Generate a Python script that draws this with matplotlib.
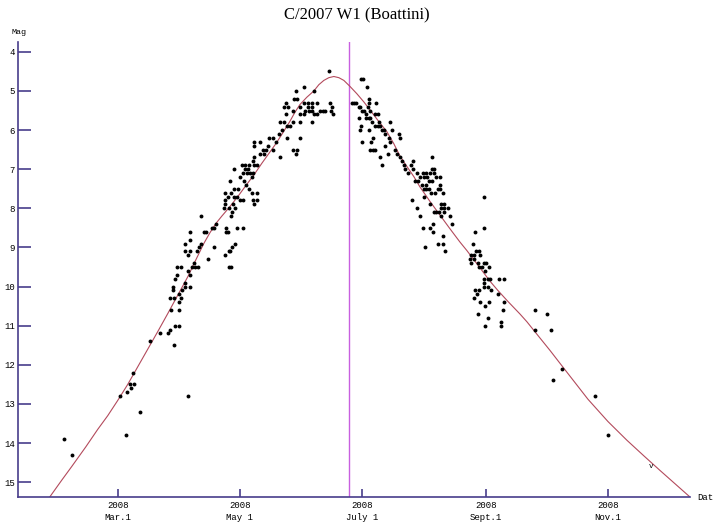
import matplotlib
matplotlib.use("Agg")
import matplotlib.pyplot as plt

# Light curve of comet C/2007 W1 (Boattini)
# x values are days counted from 2008-01-01 (day 0), y values are magnitudes

tick_days = [60, 121, 182, 244, 305]
tick_labels = ["2008\nMar.1", "2008\nMay 1", "2008\nJuly 1", "2008\nSept.1", "2008\nNov.1"]
mag_ticks = list(range(4, 16))

perihelion_day = 175.6

# model curve
curve_day = [26, 32, 37, 44, 50, 55, 60, 65, 70, 75, 80, 85, 90, 95, 99, 103, 106,
             109, 112, 116, 120, 124, 128, 132, 135.5, 139, 142.5, 146, 148.5, 151,
             154.5, 158, 160.5, 163, 165.5, 168, 170.5, 173, 176, 179.5, 183, 186,
             190, 194.5, 198, 201, 204.5, 208, 211, 216, 221, 226, 231, 234.5, 240,
             246, 250, 255, 261, 264.5, 270, 276, 281, 288, 295, 305, 314.5, 323,
             331, 338.5, 346]
curve_mag = [15.38, 14.95, 14.6, 14.1, 13.65, 13.3, 12.91, 12.5, 12.05, 11.6, 11.15,
             10.69, 10.22, 9.75, 9.32, 8.9, 8.63, 8.39, 8.2, 7.96, 7.7, 7.42, 7.15,
             6.85, 6.6, 6.35, 6.07, 5.78, 5.55, 5.35, 5.16, 5.0, 4.84, 4.73, 4.66,
             4.63, 4.66, 4.73, 4.88, 5.07, 5.28, 5.48, 5.75, 6.04, 6.35, 6.66, 6.93,
             7.19, 7.45, 7.82, 8.17, 8.52, 8.86, 9.08, 9.45, 9.86, 10.1, 10.38, 10.7,
             10.9, 11.25, 11.63, 11.96, 12.42, 12.88, 13.45, 13.93, 14.33, 14.7,
             15.04, 15.38]

# observations (pre-perihelion)
pre_day = [33, 37, 64, 61, 64.5, 66.5, 66, 68, 67.5, 71, 76, 81, 85, 86, 88.5, 90.5,
           88, 95, 86.5, 90.5, 90.5, 86, 88, 91.5, 90.5, 87.5, 92, 87.5, 93.5, 96,
           93.5, 88.5, 89.5, 96, 95, 89.5, 91.5, 97, 98.5, 100, 98, 95, 93.5, 96,
           99.5, 100.5, 93.5, 101.5, 96, 96, 103, 101.5,
           107, 108, 109, 104, 114, 115, 114, 119.5, 122.5, 118.5, 117, 108, 115.5,
           116, 105, 113.5, 115.5, 116.5,
           116.5, 117, 113, 115.5, 118.5, 113.5, 117.5, 128, 113.5, 121, 122.5,
           127.5, 129.5, 115, 118, 119.5, 113.5, 116.5, 127, 129.5, 118, 120, 125.5,
           124, 116, 123, 121, 127, 122.5, 124.5, 126, 127.5, 118, 123.5, 125, 122,
           123.5, 125.5, 128, 129.5, 127.5, 128, 141, 131, 133, 149, 132.5, 134,
           137.5, 147.5, 149.5, 128, 135, 128, 131, 139, 135.5, 137.5, 144.5, 140.5,
           142, 144.5, 146, 141, 143, 147.5, 144, 147.5, 143, 145, 144, 148, 149.5,
           149,
           165.5, 153, 158, 153, 155, 157, 159.5, 166, 151, 155, 157, 167, 153.5,
           155.5, 157, 161, 162.5, 163.5, 166.5, 151, 153, 158, 159.5, 167.5, 151,
           157, 151]
pre_mag = [13.9, 14.3, 13.8, 12.8, 12.7, 12.6, 12.5, 12.5, 12.2, 13.2, 11.4, 11.2,
           11.2, 11.1, 11.0, 11.0, 11.5, 12.8, 10.6, 10.6, 10.4, 10.3, 10.3, 10.3,
           10.2, 10.1, 10.1, 10.0, 10.0, 10.0, 9.9, 9.8, 9.7, 9.7, 9.6, 9.5, 9.5,
           9.5, 9.5, 9.5, 9.4, 9.2, 9.1, 9.1, 9.1, 9.0, 8.9, 8.9, 8.8, 8.6, 8.6, 8.2,
           8.5, 8.5, 8.4, 8.6, 8.6, 8.6, 8.5, 8.5, 8.5, 8.9, 9.0, 9.0, 9.1, 9.1, 9.3,
           9.2, 9.5, 9.5,
           8.2, 8.1, 8.0, 8.0, 8.0, 7.9, 7.9, 7.9, 7.8, 7.8, 7.8, 7.8, 7.8, 7.7, 7.7,
           7.7, 7.6, 7.6, 7.6, 7.6, 7.5, 7.5, 7.5, 7.4, 7.3, 7.3, 7.2, 7.2, 7.1, 7.1,
           7.1, 7.1, 7.0, 7.0, 7.0, 6.9, 6.9, 6.9, 6.9, 6.9, 6.8, 6.7, 6.7, 6.6, 6.6,
           6.6, 6.5, 6.5, 6.5, 6.5, 6.5, 6.4, 6.4, 6.3, 6.3, 6.3, 6.2, 6.2, 6.2, 6.1,
           6.0, 5.9, 5.9, 5.8, 5.8, 5.8, 5.6, 5.5, 5.4, 5.4, 5.3, 5.2, 5.2, 5.0,
           4.5, 4.9, 5.0, 5.3, 5.3, 5.3, 5.3, 5.3, 5.4, 5.4, 5.4, 5.4, 5.5, 5.5, 5.5,
           5.5, 5.5, 5.5, 5.5, 5.6, 5.6, 5.6, 5.6, 5.6, 5.8, 5.8, 6.2]

# observations (post-perihelion)
post_day = [181.5, 182.5, 184.5, 185.5, 177, 178, 179, 185.5, 189, 180.5, 181, 185,
            182, 183, 186, 184, 188.5, 190, 180.5, 184, 185.5, 186, 187, 190.5, 196,
            181.5, 188.5, 190, 191, 181, 185.5, 192, 193, 197, 193.5, 200.5, 187.5,
            195.5, 201, 182, 186.5, 196, 193.5, 186, 187.5, 188.5, 198.5, 195, 199.5,
            191, 201, 202, 192, 203, 203.5, 205, 207.5,
            207.5, 206.5, 217, 217, 218, 209.5, 212.5, 214, 216, 218, 211, 213, 214.5,
            219, 221, 208.5, 210, 215.5, 217, 212, 214, 221, 213, 214, 215.5, 220,
            221, 216.5, 218.5, 222.5, 213, 243, 207, 216, 221.5, 223, 209.5, 221.5,
            223, 225, 218, 219, 220.5, 223, 211, 221.5, 226, 217.5, 227, 212.5, 216,
            243, 217.5, 238.5, 222.5, 220, 222.5, 237.5, 213.5, 223.5, 239, 240.5,
            236.5, 238, 241, 236, 238, 236.5, 240, 243, 244, 240.5, 242, 245.5,
            243.5, 243, 245, 246, 250.5, 253, 243, 243, 245, 246.5, 238.5, 240.5,
            239.5, 250, 238, 241, 245.5, 253, 243.5, 252.5, 240, 245, 251.5, 243.5,
            251.5,
            268.5, 274.5, 268.5, 276.5, 282, 277.5, 298.5, 305]
post_mag = [4.7, 4.7, 4.9, 5.2, 5.3, 5.3, 5.3, 5.3, 5.3, 5.4, 5.4, 5.4, 5.5, 5.5, 5.5,
            5.6, 5.6, 5.6, 5.7, 5.7, 5.7, 5.7, 5.8, 5.8, 5.8, 5.9, 5.9, 5.9, 5.9, 6.0,
            6.0, 6.0, 6.0, 6.0, 6.1, 6.1, 6.2, 6.2, 6.2, 6.3, 6.3, 6.3, 6.4, 6.5, 6.5,
            6.5, 6.5, 6.6, 6.6, 6.7, 6.7, 6.8, 6.9, 6.9, 7.0, 7.1, 7.0,
            6.8, 6.9, 6.7, 7.0, 7.0, 7.1, 7.1, 7.1, 7.1, 7.1, 7.2, 7.2, 7.2, 7.2, 7.2,
            7.3, 7.3, 7.3, 7.3, 7.4, 7.4, 7.4, 7.5, 7.5, 7.5, 7.5, 7.5, 7.6, 7.6, 7.6,
            7.7, 7.7, 7.8, 7.9, 7.9, 7.9, 8.0, 8.0, 8.0, 8.0, 8.1, 8.1, 8.1, 8.1, 8.2,
            8.2, 8.2, 8.4, 8.4, 8.5, 8.5, 8.5, 8.6, 8.6, 8.7, 8.9, 8.9, 8.9, 9.0, 9.1,
            9.1, 9.1, 9.2, 9.2, 9.2, 9.3, 9.3, 9.4, 9.4, 9.4, 9.4, 9.5, 9.5, 9.5, 9.6,
            9.8, 9.8, 9.8, 9.8, 9.8, 9.9, 10.0, 10.0, 10.1, 10.1, 10.1, 10.2, 10.2,
            10.3, 10.4, 10.4, 10.4, 10.5, 10.6, 10.7, 10.8, 10.9, 11.0, 11.0,
            10.6, 10.7, 11.1, 11.1, 12.1, 12.4, 12.8, 13.8]

# small "v" mark near the end of the curve
v_day, v_mag = 326.5, 14.6

axis_col = "#483d8b"
mono = "Liberation Mono"

fig = plt.figure(figsize=(7.13, 5.23), dpi=100)
ax = fig.add_axes([0.0257, 0.0497, 0.9420, 0.8706])

ax.plot(curve_day, curve_mag, color="#b34a5c", lw=0.8, zorder=2)
ax.axvline(perihelion_day, color="#c860e0", lw=1.0, zorder=1)
ax.plot(pre_day + post_day, pre_mag + post_mag, "o", color="black",
        ms=2.8, mew=0, zorder=3)
ax.text(v_day, v_mag, "v", fontsize=5.5, family=mono, ha="center", va="center")

ax.set_xlim(10.3, 346)
ax.set_ylim(15.38, 3.74)

for side in ("top", "right"):
    ax.spines[side].set_visible(False)
for side in ("left", "bottom"):
    ax.spines[side].set_color(axis_col)
    ax.spines[side].set_linewidth(1.2)

ax.set_yticks(mag_ticks)
ax.set_yticklabels([str(m) for m in mag_ticks], family=mono)
ax.tick_params(axis="y", direction="in", length=9.4, width=1.2, color=axis_col,
               labelsize=6.5, pad=2.5)
ax.set_xticks(tick_days)
ax.set_xticklabels(tick_labels, family=mono, linespacing=1.35)
ax.tick_params(axis="x", direction="in", length=5.8, width=1.2, color=axis_col,
               labelsize=6.5, pad=3)

fig.text(18.5 / 713, 1 - 33 / 523, "Mag", fontsize=6, family=mono,
         ha="center", va="center")
ax.annotate("Dat", xy=(1, 0), xycoords="axes fraction", xytext=(5, 0),
            textcoords="offset points", fontsize=6.5, family=mono,
            ha="left", va="center")
fig.text(0.5, 1 - 15 / 523, "C/2007 W1 (Boattini)", fontsize=12,
         family="Liberation Serif", ha="center", va="center")

fig.savefig("out.png", dpi=100)
